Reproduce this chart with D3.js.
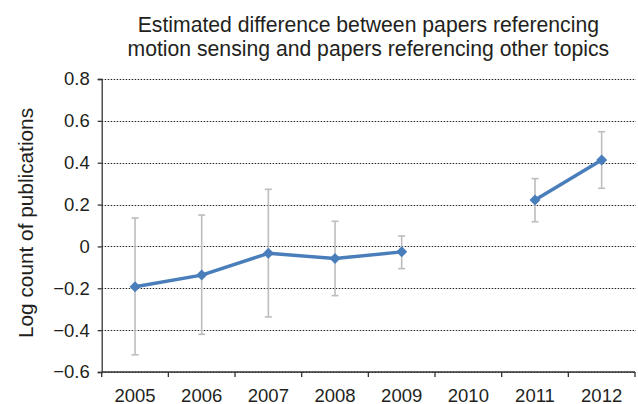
<!DOCTYPE html>
<html>
<head>
<meta charset="utf-8">
<script src="https://cdn.jsdelivr.net/npm/d3@7/dist/d3.min.js"></script>
<style>
  body { margin: 0; background: #fff; }
  text { font-family: "Liberation Sans", Arial, sans-serif; fill: #231f20; }
</style>
</head>
<body>
<div id="chart"></div>
<script>
// values
const years = ["2005", "2006", "2007", "2008", "2009", "2010", "2011", "2012"]
const estimates = [-0.193, -0.137, -0.033, -0.058, -0.026, null, 0.222, 0.413]
const upper = [0.136, 0.15, 0.273, 0.12, 0.05, null, 0.324, 0.548]
const lower = [-0.518, -0.42, -0.337, -0.235, -0.106, null, 0.118, 0.278]
const yTicks = [-0.6, -0.4, -0.2, 0, 0.2, 0.4, 0.6, 0.8]
const titleLines = ["Estimated difference between papers referencing",
                    "motion sensing and papers referencing other topics"]
const yLabel = "Log count of publications"

const width = 638
const height = 404
const margin = {top: 79, right: 3, bottom: 32, left: 101.7}

const data = years.map((year, i) => ({year, v: estimates[i], hi: upper[i], lo: lower[i]}))

const svg = d3.select("#chart").append("svg")
    .attr("width", width)
    .attr("height", height)

const x = d3.scaleBand()
    .domain(years)
    .range([margin.left, width - margin.right])

const y = d3.scaleLinear()
    .domain([-0.6, 0.8])
    .range([height - margin.bottom, margin.top])

const fmt = d => d < 0 ? "\u2212" + Math.abs(d) : String(d)

// dotted gridlines
svg.append("g")
  .selectAll("line")
  .data(yTicks)
  .join("line")
    .attr("x1", margin.left)
    .attr("x2", width - 2)
    .attr("y1", d => Math.round(y(d)) + 0.5)
    .attr("y2", d => Math.round(y(d)) + 0.5)
    .attr("stroke", "#222")
    .attr("stroke-width", 1)
    .attr("stroke-dasharray", "1.5,1.5")

// y axis
svg.append("g")
    .attr("transform", `translate(${margin.left},0)`)
    .call(d3.axisLeft(y).tickValues(yTicks).tickFormat(fmt).tickSize(4).tickPadding(8))
    .call(g => g.selectAll("line, path").attr("stroke", "#333").attr("stroke-width", 1.3))
    .call(g => g.selectAll("text").attr("font-size", 18.5).attr("fill", "#231f20")
        .attr("font-family", "Liberation Sans, Arial, sans-serif"))

// x axis with ticks between categories
const xAxis = svg.append("g")
    .attr("transform", `translate(0,${y(-0.6)})`)
xAxis.append("line")
    .attr("x1", margin.left)
    .attr("x2", width - margin.right)
    .attr("stroke", "#333")
    .attr("stroke-width", 1.3)
xAxis.selectAll(".tk")
  .data(years.map(d => x(d)).concat([x.range()[1]]))
  .join("line")
    .attr("class", "tk")
    .attr("x1", d => d)
    .attr("x2", d => d)
    .attr("y2", 5)
    .attr("stroke", "#333")
    .attr("stroke-width", 1.3)
xAxis.selectAll("text")
  .data(years)
  .join("text")
    .attr("x", d => x(d) + x.bandwidth() / 2)
    .attr("y", 29.5)
    .attr("text-anchor", "middle")
    .attr("font-size", 18.5)
    .text(d => d)

// error bars
const defined = data.filter(d => d.v != null)
const cx = d => x(d.year) + x.bandwidth() / 2
const bars = svg.append("g")
    .attr("stroke", "#bdbdbd")
    .attr("stroke-width", 1.6)
bars.selectAll(".stem")
  .data(defined)
  .join("line")
    .attr("x1", cx).attr("x2", cx)
    .attr("y1", d => y(d.hi)).attr("y2", d => y(d.lo))
bars.selectAll(".cap")
  .data(defined.flatMap(d => [{c: cx(d), v: d.hi}, {c: cx(d), v: d.lo}]))
  .join("line")
    .attr("x1", d => d.c - 3.5).attr("x2", d => d.c + 3.5)
    .attr("y1", d => y(d.v)).attr("y2", d => y(d.v))

// line with gap in 2010
const line = d3.line()
    .defined(d => d.v != null)
    .x(cx)
    .y(d => y(d.v))

svg.append("path")
    .datum(data)
    .attr("fill", "none")
    .attr("stroke", "#4a7ebb")
    .attr("stroke-width", 3.5)
    .attr("stroke-linejoin", "round")
    .attr("d", line)

svg.append("g")
    .attr("fill", "#4a7ebb")
  .selectAll("path")
  .data(defined)
  .join("path")
    .attr("transform", d => `translate(${cx(d)},${y(d.v)})`)
    .attr("d", "M0,-5.5L5.5,0L0,5.5L-5.5,0Z")

// title
svg.append("g")
  .selectAll("text")
  .data(titleLines)
  .join("text")
    .attr("x", (margin.left + width - margin.right) / 2)
    .attr("y", (d, i) => 31.5 + i * 24.5)
    .attr("text-anchor", "middle")
    .attr("font-size", 21.2)
    .text(d => d)

// y label
svg.append("text")
    .attr("transform", "translate(33,223) rotate(-90)")
    .attr("text-anchor", "middle")
    .attr("font-size", 20.8)
    .text(yLabel)
</script>
</body>
</html>
